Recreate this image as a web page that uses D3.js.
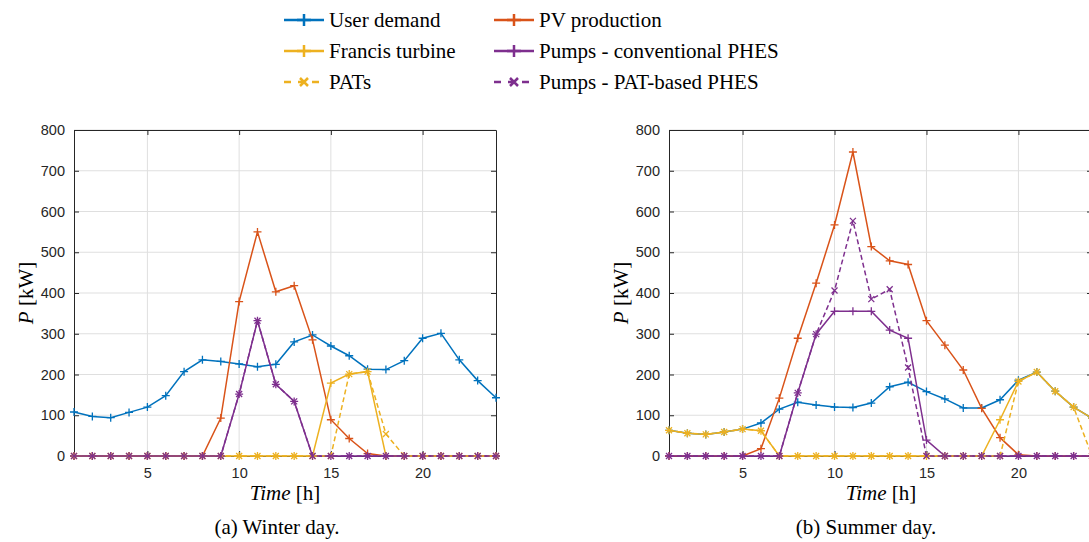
<!DOCTYPE html>
<html>
<head>
<meta charset="utf-8">
<script src="https://cdn.jsdelivr.net/npm/d3@7"></script>
<style>
  body { margin: 0; background: #fff; }
  svg { display: block; }
  .tick text { font-family: "Liberation Sans", Arial, sans-serif; font-size: 14.5px; fill: #262626; }
</style>
</head>
<body>
<svg id="chart" width="1089" height="542"></svg>
<script>
// hours of the day
const hours = [1, 2, 3, 4, 5, 6, 7, 8, 9, 10, 11, 12, 13, 14, 15, 16, 17, 18, 19, 20, 21, 22, 23, 24];
const xTicks = [5, 10, 15, 20];
const yTicks = [0, 100, 200, 300, 400, 500, 600, 700, 800];

// winter day [kW]
const winterDemand = [108, 97, 94, 107, 120, 148, 207, 236, 232, 226, 219, 225, 280, 297, 270, 246, 213, 212, 234, 289, 301, 236, 185, 143];
const winterPV = [0, 0, 0, 0, 0, 0, 0, 0, 93, 379, 550, 403, 418, 285, 89, 43, 6, 0, 0, 0, 0, 0, 0, 0];
const winterFrancis = [0, 0, 0, 0, 0, 0, 0, 0, 0, 0, 0, 0, 0, 0, 179, 201, 207, 0, 0, 0, 0, 0, 0, 0];
const winterPumpsConv = [0, 0, 0, 0, 0, 0, 0, 0, 0, 152, 332, 176, 134, 0, 0, 0, 0, 0, 0, 0, 0, 0, 0, 0];
const winterPATs = [0, 0, 0, 0, 0, 0, 0, 0, 0, 0, 0, 0, 0, 0, 0, 201, 207, 54, 0, 0, 0, 0, 0, 0];
const winterPumpsPAT = [0, 0, 0, 0, 0, 0, 0, 0, 0, 152, 332, 176, 134, 0, 0, 0, 0, 0, 0, 0, 0, 0, 0, 0];

// summer day [kW]
const summerDemand = [63, 56, 53, 59, 66, 81, 115, 132, 125, 120, 119, 130, 170, 181, 158, 140, 118, 118, 138, 186, 206, 159, 120, 93];
const summerPV = [0, 0, 0, 0, 0, 18, 142, 289, 424, 567, 746, 514, 479, 470, 332, 272, 211, 117, 45, 3, 0, 0, 0, 0];
const summerFrancis = [63, 56, 53, 59, 66, 62, 0, 0, 0, 0, 0, 0, 0, 0, 0, 0, 0, 0, 89, 183, 206, 159, 120, 93];
const summerPumpsConv = [0, 0, 0, 0, 0, 0, 0, 155, 299, 355, 355, 355, 309, 289, 39, 0, 0, 0, 0, 0, 0, 0, 0, 0];
const summerPATs = [63, 56, 53, 59, 66, 62, 0, 0, 0, 0, 0, 0, 0, 0, 0, 0, 0, 0, 0, 183, 206, 159, 120, 0];
const summerPumpsPAT = [0, 0, 0, 0, 0, 0, 0, 155, 299, 406, 577, 385, 409, 217, 0, 0, 0, 0, 0, 0, 0, 0, 0, 0];

const seriesNames = ["User demand", "PV production", "Francis turbine", "Pumps - conventional PHES", "PATs", "Pumps - PAT-based PHES"];
const colors = ["#0072BD", "#D95319", "#EDB120", "#7E2F8E", "#EDB120", "#7E2F8E"];
const dashed = [false, false, false, false, true, true];

const serifFont = "'Liberation Serif', 'DejaVu Serif', 'Noto Serif', serif";
const svg = d3.select("#chart");
const plusPath = "M-4,0H4M0,-4V4";
const crossPath = "M-3,-3L3,3M-3,3L3,-3";

function serifText(sel) {
  return sel.attr("font-family", serifFont).attr("fill", "#000").attr("font-size", 21);
}

function drawPanel(left, right, top, bottom, series, xLabelX, caption, captionX) {
  const x = d3.scaleLinear().domain([1, 24]).range([left, right]);
  const y = d3.scaleLinear().domain([0, 800]).range([bottom, top]);

  const clipId = "clip" + left;
  svg.append("clipPath").attr("id", clipId)
    .append("rect").attr("x", left - 6).attr("y", top - 6)
    .attr("width", right - left + 12).attr("height", bottom - top + 12);

  const g = svg.append("g");

  // grid
  g.append("g").selectAll("line").data(xTicks).join("line")
    .attr("x1", d => x(d)).attr("x2", d => x(d))
    .attr("y1", top).attr("y2", bottom)
    .attr("stroke", "#dfdfdf").attr("stroke-width", 1);
  g.append("g").selectAll("line").data(yTicks).join("line")
    .attr("x1", left).attr("x2", right)
    .attr("y1", d => y(d)).attr("y2", d => y(d))
    .attr("stroke", "#dfdfdf").attr("stroke-width", 1);

  // axes (ticks inside)
  const axisColor = "#262626";
  const bx = g.append("g").attr("transform", `translate(0,${bottom})`)
    .call(d3.axisBottom(x).tickValues(xTicks).tickSizeInner(-5).tickSizeOuter(0).tickPadding(12));
  const tx = g.append("g").attr("transform", `translate(0,${top})`)
    .call(d3.axisTop(x).tickValues(xTicks).tickSizeInner(-5).tickSizeOuter(0).tickFormat(""));
  const ly = g.append("g").attr("transform", `translate(${left},0)`)
    .call(d3.axisLeft(y).tickValues(yTicks).tickSizeInner(-5).tickSizeOuter(0).tickPadding(9));
  const ry = g.append("g").attr("transform", `translate(${right},0)`)
    .call(d3.axisRight(y).tickValues(yTicks).tickSizeInner(-5).tickSizeOuter(0).tickFormat(""));
  [bx, tx, ly, ry].forEach(a => {
    a.select(".domain").attr("stroke", axisColor).attr("stroke-width", 1);
    a.selectAll(".tick line").attr("stroke", axisColor);
  });

  // series
  const line = d3.line().x((d, i) => x(hours[i])).y(d => y(d));
  const plot = g.append("g").attr("clip-path", `url(#${clipId})`);
  series.forEach((vals, k) => {
    plot.append("path").datum(vals)
      .attr("d", line).attr("fill", "none")
      .attr("stroke", colors[k]).attr("stroke-width", 1.5)
      .attr("stroke-dasharray", dashed[k] ? "5,3" : null);
    plot.append("g").selectAll("path").data(vals).join("path")
      .attr("transform", (d, i) => `translate(${x(hours[i])},${y(d)})`)
      .attr("d", dashed[k] ? crossPath : plusPath)
      .attr("fill", "none").attr("stroke", colors[k]).attr("stroke-width", 1.3);
  });

  // axis labels
  const ylab = serifText(svg.append("text"))
    .attr("transform", `translate(${left - 41},${(top + bottom) / 2}) rotate(-90)`)
    .attr("text-anchor", "middle");
  ylab.append("tspan").attr("font-style", "italic").text("P");
  ylab.append("tspan").text(" [kW]");

  const xlab = serifText(svg.append("text"))
    .attr("x", xLabelX).attr("y", bottom + 44)
    .attr("text-anchor", "middle");
  xlab.append("tspan").attr("font-style", "italic").text("Time");
  xlab.append("tspan").text(" [h]");

  serifText(svg.append("text"))
    .attr("x", captionX).attr("y", bottom + 78)
    .attr("text-anchor", "middle")
    .text(caption);
}

drawPanel(74, 496, 130, 456,
  [winterDemand, winterPV, winterFrancis, winterPumpsConv, winterPATs, winterPumpsPAT],
  285, "(a) Winter day.", 277);
drawPanel(669, 1092, 130, 456,
  [summerDemand, summerPV, summerFrancis, summerPumpsConv, summerPATs, summerPumpsPAT],
  881, "(b) Summer day.", 866);

// legend
const legendCols = [284, 494];
const legendRows = [20, 51, 82];
const order = [0, 2, 4, 1, 3, 5];
order.forEach((k, idx) => {
  const cx = legendCols[Math.floor(idx / 3)];
  const cy = legendRows[idx % 3];
  const lg = svg.append("g").attr("transform", `translate(${cx},${cy})`);
  lg.append("line").attr("x1", 0).attr("x2", 40).attr("y1", 0).attr("y2", 0)
    .attr("stroke", colors[k]).attr("stroke-width", 2.5)
    .attr("stroke-dasharray", dashed[k] ? "7,7" : null);
  lg.append("path").attr("transform", "translate(20,0)")
    .attr("d", dashed[k] ? "M-4,-4L4,4M-4,4L4,-4" : "M-7,0H7M0,-6V6")
    .attr("fill", "none").attr("stroke", colors[k]).attr("stroke-width", 2.5);
  serifText(lg.append("text"))
    .attr("x", 45).attr("y", 7)
    .text(seriesNames[k]);
});
</script>
</body>
</html>
